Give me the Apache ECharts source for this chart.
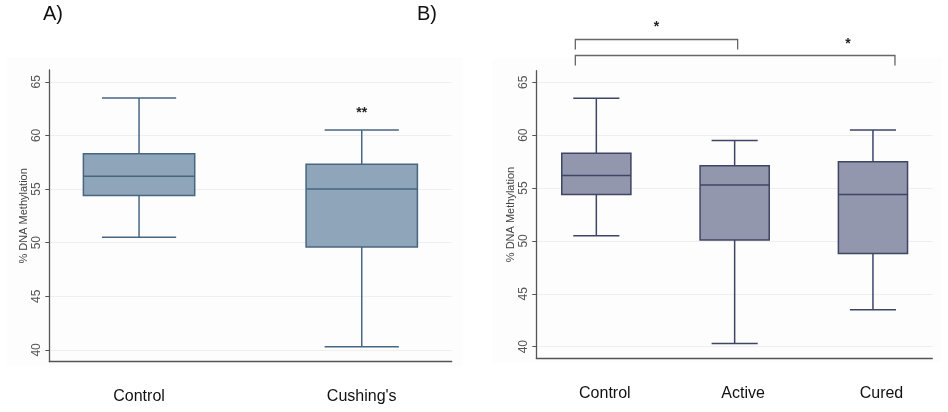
<!DOCTYPE html>
<html>
<head>
<meta charset="utf-8">
<script src="https://cdn.jsdelivr.net/npm/echarts@6/dist/echarts.min.js"></script>
<style>
html,body{margin:0;padding:0;background:#fff;}
#chart{width:948px;height:412px;}
</style>
</head>
<body>
<div id="chart"></div>
<script>
// ---- data ----
var categoriesA = ['Control', "Cushing's"];
// [min, Q1, median, Q3, max]
var boxesA = [
  [50.5, 54.4, 56.2, 58.3, 63.5],
  [40.3, 49.6, 55.0, 57.3, 60.5]
];
var sigA = ['', '**'];

var categoriesB = ['Control', 'Active', 'Cured'];
var boxesB = [
  [50.5, 54.4, 56.2, 58.3, 63.5],
  [40.3, 50.1, 55.3, 57.1, 59.5],
  [43.5, 48.8, 54.4, 57.5, 60.5]
];
// comparisons: [from category index, to category index, label]
var bracketsB = [
  [0, 1, '*'],
  [0, 2, '*']
];
var yTicks = [40, 45, 50, 55, 60, 65];

// ---- styles / layout ----
var FONT = 'Liberation Sans, Arial, sans-serif';
var styleA = {fill: '#8ea5ba', stroke: '#476681'};
var styleB = {fill: '#9297ad', stroke: '#3e4565'};
var bracketLayout = [
  {top: 39.5, leg: 49.5, dl: -21, dr: 3, starX: 656.5, starY: 27},
  {top: 55.5, leg: 65.5, dl: -21, dr: 22, starX: 848, starY: 44.5}
];

function withIndex(boxes){
  return boxes.map(function(b, i){ return [i + 1].concat(b); });
}

function boxRenderer(st){
  return function(params, api){
    var x = api.value(0);
    var pMin = api.coord([x, api.value(1)]);
    var pQ1 = api.coord([x, api.value(2)]);
    var pMed = api.coord([x, api.value(3)]);
    var pQ3 = api.coord([x, api.value(4)]);
    var pMax = api.coord([x, api.value(5)]);
    var bw = api.size([0.5, 0])[0];
    var cw = api.size([1/3, 0])[0];
    var cx = pMed[0];
    var ls = {stroke: st.stroke, lineWidth: 1.5, fill: null};
    return {
      type: 'group',
      children: [
        {type: 'line', shape: {x1: cx, y1: pQ3[1], x2: cx, y2: pMax[1]}, style: ls},
        {type: 'line', shape: {x1: cx - cw/2, y1: pMax[1], x2: cx + cw/2, y2: pMax[1]}, style: ls},
        {type: 'line', shape: {x1: cx, y1: pQ1[1], x2: cx, y2: pMin[1]}, style: ls},
        {type: 'line', shape: {x1: cx - cw/2, y1: pMin[1], x2: cx + cw/2, y2: pMin[1]}, style: ls},
        {type: 'rect', shape: {x: cx - bw/2, y: pQ3[1], width: bw, height: pQ1[1] - pQ3[1]},
          style: {fill: st.fill, stroke: st.stroke, lineWidth: 1.5}},
        {type: 'line', shape: {x1: cx - bw/2, y1: pMed[1], x2: cx + bw/2, y2: pMed[1]}, style: ls}
      ]
    };
  };
}

function yAxisCfg(gridIndex){
  return {
    type: 'value', gridIndex: gridIndex, min: 38.9, max: 66.1,
    name: '% DNA Methylation', nameLocation: 'middle', nameGap: 20,
    nameTextStyle: {fontFamily: FONT, fontSize: 11, color: '#444'},
    axisLine: {show: true, lineStyle: {color: '#555', width: 1.3}},
    axisTick: {show: true, length: 4, customValues: yTicks, lineStyle: {color: '#555'}},
    axisLabel: {customValues: yTicks, rotate: 90, margin: 7, fontFamily: FONT, fontSize: 12, color: '#555'},
    splitLine: {show: true, lineStyle: {color: '#efefef', width: 1}}
  };
}

function xAxisCfg(gridIndex, cats, min, max, pad){
  var vals = cats.map(function(c, i){ return i + 1; });
  return {
    type: 'value', gridIndex: gridIndex, min: min, max: max,
    axisLine: {show: true, onZero: false, lineStyle: {color: '#555', width: 1.3}},
    axisTick: {show: false},
    splitLine: {show: false},
    axisLabel: {
      customValues: vals, margin: 27, fontFamily: FONT, fontSize: 16, color: '#111',
      padding: pad,
      formatter: function(v){ return cats[Math.round(v) - 1] || ''; }
    }
  };
}

var chart = echarts.init(document.getElementById('chart'), null, {renderer: 'canvas'});

var option = {
  backgroundColor: '#fff',
  animation: false,
  graphic: [
    {type: 'rect', z: -10, shape: {x: 7, y: 57, width: 456, height: 309}, style: {fill: '#fdfdfd'}},
    {type: 'rect', z: -10, shape: {x: 492, y: 58, width: 450, height: 305}, style: {fill: '#fdfdfd'}},
    {type: 'text', x: 43, y: 14, style: {text: 'A)', font: '20px ' + FONT, fill: '#111', verticalAlign: 'middle'}},
    {type: 'text', x: 417, y: 14, style: {text: 'B)', font: '20px ' + FONT, fill: '#111', verticalAlign: 'middle'}}
  ],
  grid: [
    {left: 49.3, top: 70, width: 402.4, height: 291.7},
    {left: 536.3, top: 70.7, width: 396, height: 287.6}
  ],
  xAxis: [
    xAxisCfg(0, categoriesA, 0.597, 2.404, [0, 0, 0, 0]),
    xAxisCfg(1, categoriesB, 0.566, 3.429, [0, 0, 0, 17])
  ],
  yAxis: [yAxisCfg(0), yAxisCfg(1)],
  series: [
    {
      type: 'custom', xAxisIndex: 0, yAxisIndex: 0,
      data: withIndex(boxesA),
      encode: {x: 0, y: [1, 2, 3, 4, 5]},
      renderItem: boxRenderer(styleA)
    },
    {
      type: 'custom', xAxisIndex: 0, yAxisIndex: 0,
      data: boxesA.map(function(b, i){ return [i + 1, b[4], sigA[i]]; }),
      encode: {x: 0, y: 1},
      renderItem: function(params, api){
        var p = api.coord([api.value(0), api.value(1)]);
        var label = sigA[params.dataIndex];
        if (!label) return null;
        return {type: 'text', x: p[0], y: p[1] - 17,
          style: {text: label, font: 'bold 14px ' + FONT, fill: '#222', align: 'center', verticalAlign: 'middle'}};
      }
    },
    {
      type: 'custom', xAxisIndex: 1, yAxisIndex: 1,
      data: withIndex(boxesB),
      encode: {x: 0, y: [1, 2, 3, 4, 5]},
      renderItem: boxRenderer(styleB)
    },
    {
      type: 'custom', xAxisIndex: 1, yAxisIndex: 1, clip: false,
      data: bracketsB.map(function(b){ return [b[0] + 1, b[1] + 1]; }),
      encode: {x: [0, 1]},
      renderItem: function(params, api){
        var L = bracketLayout[params.dataIndex];
        var x1 = api.coord([api.value(0), 50])[0] + L.dl;
        var x2 = api.coord([api.value(1), 50])[0] + L.dr;
        var ls = {stroke: '#666', lineWidth: 1.3, fill: null};
        return {
          type: 'group',
          children: [
            {type: 'polyline', shape: {points: [[x1, L.leg], [x1, L.top], [x2, L.top], [x2, L.leg]]}, style: ls},
            {type: 'text', x: L.starX, y: L.starY,
              style: {text: bracketsB[params.dataIndex][2], font: 'bold 14px ' + FONT, fill: '#222', align: 'center', verticalAlign: 'middle'}}
          ]
        };
      }
    }
  ]
};
chart.setOption(option);
</script>
</body>
</html>
